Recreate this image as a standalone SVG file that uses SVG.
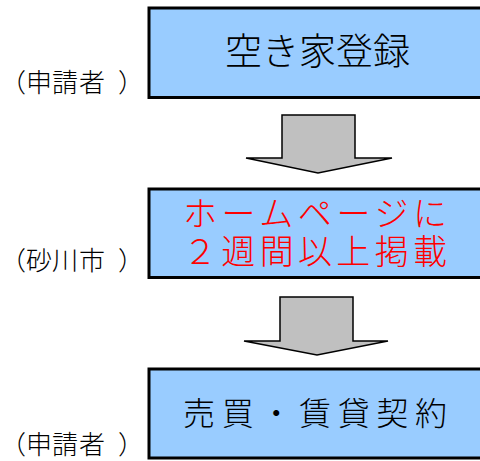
<svg xmlns="http://www.w3.org/2000/svg" width="480" height="461" viewBox="0 0 480 461">
<style>
.box{fill:#99CCFF;stroke:#000;stroke-width:3}
.arrow{fill:#C0C0C0;stroke:#000;stroke-width:1.5;stroke-linejoin:miter}
text{font-family:"Noto Sans CJK JP","Noto Sans CJK SC",sans-serif;font-weight:300}
.lbl{font-size:26px;fill:#000}
.t{fill:#000}
.red{fill:#FF0000;font-size:34px}
</style>
<rect width="480" height="461" fill="#fff"/>
<g id="connectors">
<path class="arrow" d="M282,115 H355 V158 H392 L318,173 L246,158 H282 Z"/>
<path class="arrow" d="M280,297 H353 V341 H388 L317,355 L244,341 H280 Z"/>
</g>
<g id="node1">
<rect class="box" x="149" y="8" width="340" height="89.5"/>
<text class="t" x="317.5" y="65" font-size="37" text-anchor="middle">空き家登録</text>
</g>
<g id="node2">
<rect class="box" x="149" y="189" width="340" height="88.5"/>
<text class="red"><tspan x="183" y="226" textLength="264" lengthAdjust="spacing">ホームページに</tspan><tspan x="183" y="264" textLength="264" lengthAdjust="spacing">２週間以上掲載</tspan></text>
</g>
<g id="node3">
<rect class="box" x="149" y="369" width="340" height="89"/>
<text class="t" x="183" y="425" font-size="32" textLength="264" lengthAdjust="spacing">売買・賃貸契約</text>
</g>
<g id="label1"><text class="lbl" x="0 26 52 79 118" y="92">（申請者）</text></g>
<g id="label2"><text class="lbl" x="0 26 52 79 118" y="270">（砂川市）</text></g>
<g id="label3"><text class="lbl" x="0 26 52 79 118" y="454">（申請者）</text></g>
</svg>
